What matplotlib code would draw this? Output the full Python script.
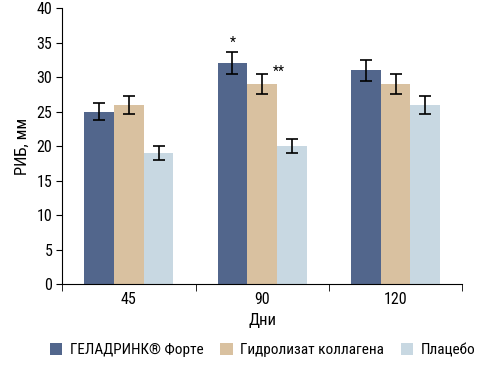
import matplotlib.pyplot as plt
import numpy as np

plt.rcParams['font.family'] = ['Roboto Condensed', 'DejaVu Sans']
plt.rcParams['font.size'] = 11.5

days = ['45', '90', '120']
series = ['ГЕЛАДРИНК® Форте', 'Гидролизат коллагена', 'Плацебо']
geladrink = [25, 32, 31]
collagen = [26, 29, 29]
placebo = [19, 20, 26]
geladrink_err = [1.25, 1.6, 1.55]
collagen_err = [1.3, 1.5, 1.5]
placebo_err = [1.0, 1.05, 1.3]
colors = ['#52668c', '#d9c1a0', '#c8d8e2']

fig = plt.figure(figsize=(4.78, 3.69), dpi=100)
ax = fig.add_axes([0.130, 0.230, 0.837, 0.748])

x = np.arange(len(days))
w = 0.223
vals = [geladrink, collagen, placebo]
errs = [geladrink_err, collagen_err, placebo_err]
for i in range(3):
    ax.bar(x + (i - 1) * w, vals[i], w, color=colors[i], label=series[i],
           yerr=errs[i], capsize=4,
           error_kw=dict(ecolor='black', elinewidth=1.2, capthick=1.2))

# значимость
ax.text(x[1] - w, geladrink[1] + geladrink_err[1] + 0.4, '*', ha='center', va='bottom', fontsize=10)
ax.text(x[1] + 0.08, collagen[1] + collagen_err[1] - 0.8, '**', ha='left', va='bottom', fontsize=10)

ax.set_xlim(-0.5, 2.5)
ax.set_ylim(0, 40)
ax.set_yticks(range(0, 41, 5))
ax.set_xticks(x)
ax.set_xticklabels(days)
ax.set_xticks([-0.5, 0.5, 1.5, 2.5], minor=True)
ax.tick_params(axis='x', which='major', length=0, pad=6)
ax.tick_params(axis='x', which='minor', length=5, direction='out')
ax.tick_params(axis='y', length=4, direction='out', pad=3)
ax.spines['top'].set_visible(False)
ax.spines['right'].set_visible(False)
ax.set_xlabel('Дни', fontsize=12, labelpad=4)
ax.set_ylabel('РИБ, мм', fontsize=12, labelpad=5)

fig.legend(loc='lower center', bbox_to_anchor=(0.55, -0.005), ncol=3, frameon=False,
           fontsize=11, handlelength=0.8, handleheight=0.8, columnspacing=1.1, handletextpad=0.5)

fig.savefig('out.png', dpi=100)
